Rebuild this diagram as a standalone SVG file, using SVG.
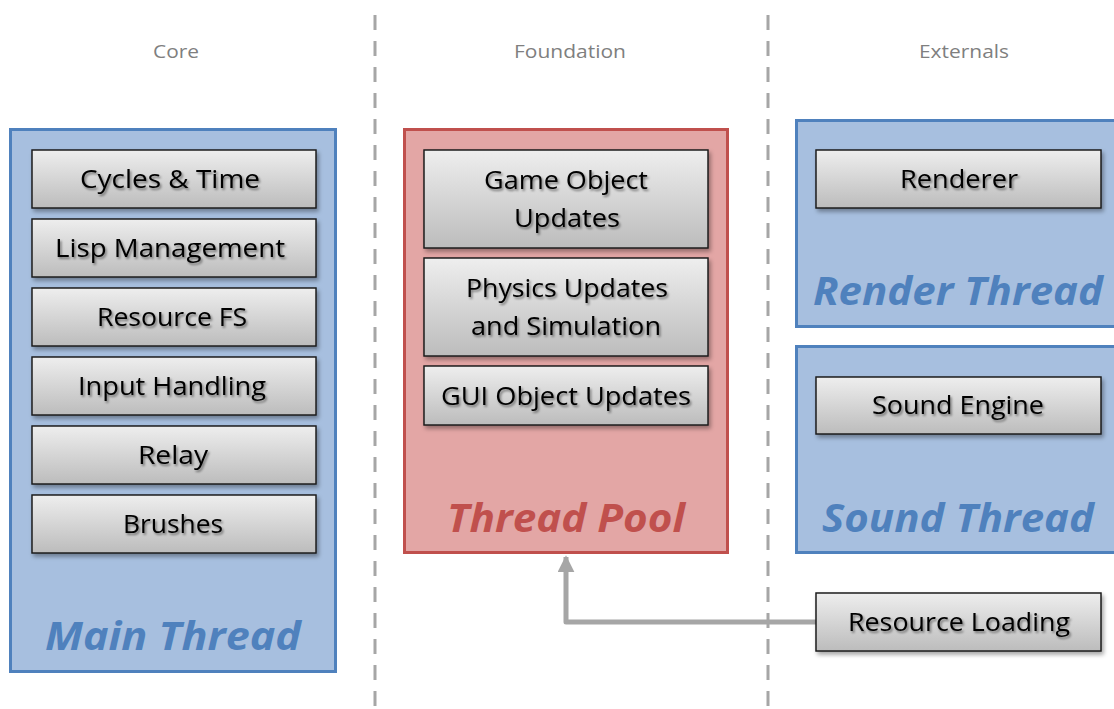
<svg xmlns="http://www.w3.org/2000/svg" width="1114" height="709" viewBox="0 0 1114 709">
  <defs>
    <linearGradient id="boxFill" x1="0" y1="0" x2="0" y2="1">
      <stop offset="0" stop-color="#eeeeee"/>
      <stop offset="1" stop-color="#bcbcbc"/>
    </linearGradient>
    <filter id="boxShadow" x="-10%" y="-20%" width="125%" height="150%">
      <feDropShadow dx="2" dy="3" stdDeviation="2" flood-color="#000" flood-opacity="0.35"/>
    </filter>
    <filter id="textShadow" x="-10%" y="-30%" width="125%" height="170%">
      <feDropShadow dx="1.5" dy="2" stdDeviation="1.2" flood-color="#000" flood-opacity="0.45"/>
    </filter>
    <marker id="arrowHead" viewBox="0 0 10 10" refX="9" refY="5" markerWidth="3.4" markerHeight="3.4" orient="auto" markerUnits="strokeWidth">
      <path d="M0,0 L10,5 L0,10 Z" fill="#a6a6a6"/>
    </marker>
  </defs>
  <style>
    .divider { stroke: #a6a6a6; stroke-width: 3; stroke-dasharray: 15 11; fill: none; }
    .header { font-family: "Open Sans", "Liberation Sans", sans-serif; font-size: 18px; fill: #7f7f7f; text-anchor: middle; }
    .blueZone { fill: #a7bfdf; stroke: #4f81bd; stroke-width: 3; }
    .redZone { fill: #e3a6a5; stroke: #c0504d; stroke-width: 3; }
    .zoneTitle { font-family: "Open Sans", "Liberation Sans", sans-serif; font-size: 40px; font-weight: bold; font-style: italic; text-anchor: middle; }
    .blueTitle { fill: #4f81bd; }
    .redTitle { fill: #c0504d; }
    .box { fill: url(#boxFill); stroke: #1e1e1e; stroke-width: 1.5; filter: url(#boxShadow); }
    .label { font-family: "Open Sans", "Liberation Sans", sans-serif; font-size: 25px; fill: #000; text-anchor: middle; filter: url(#textShadow); }
    .connector { stroke: #a6a6a6; stroke-width: 5; fill: none; stroke-linejoin: round; }
  </style>

  <rect width="1114" height="709" fill="#ffffff"/>

  <!-- column dividers -->
  <line class="divider" x1="375" y1="15" x2="375" y2="709"/>
  <line class="divider" x1="768" y1="15" x2="768" y2="709"/>

  <!-- column headers -->
  <text class="header" x="176" y="58" textLength="46" lengthAdjust="spacingAndGlyphs">Core</text>
  <text class="header" x="570" y="58" textLength="112" lengthAdjust="spacingAndGlyphs">Foundation</text>
  <text class="header" x="964" y="58" textLength="90" lengthAdjust="spacingAndGlyphs">Externals</text>

  <!-- Main Thread -->
  <g id="main-thread">
    <rect class="blueZone" x="10.5" y="129.5" width="325" height="542"/>
    <text class="zoneTitle blueTitle" x="173" y="650" textLength="256" lengthAdjust="spacingAndGlyphs">Main Thread</text>
  </g>
  <g id="cycles-time">
    <rect class="box" x="32" y="150" width="284" height="58"/>
    <text class="label" x="170" y="188" textLength="180" lengthAdjust="spacingAndGlyphs">Cycles &amp; Time</text>
  </g>
  <g id="lisp-management">
    <rect class="box" x="32" y="219" width="284" height="58"/>
    <text class="label" x="170" y="257" textLength="230" lengthAdjust="spacingAndGlyphs">Lisp Management</text>
  </g>
  <g id="resource-fs">
    <rect class="box" x="32" y="288" width="284" height="58"/>
    <text class="label" x="172" y="326" textLength="150" lengthAdjust="spacingAndGlyphs">Resource FS</text>
  </g>
  <g id="input-handling">
    <rect class="box" x="32" y="357" width="284" height="58"/>
    <text class="label" x="172" y="395" textLength="188" lengthAdjust="spacingAndGlyphs">Input Handling</text>
  </g>
  <g id="relay">
    <rect class="box" x="32" y="426" width="284" height="58"/>
    <text class="label" x="173" y="464" textLength="70" lengthAdjust="spacingAndGlyphs">Relay</text>
  </g>
  <g id="brushes">
    <rect class="box" x="32" y="495" width="284" height="58"/>
    <text class="label" x="173" y="533" textLength="100" lengthAdjust="spacingAndGlyphs">Brushes</text>
  </g>

  <!-- Thread Pool -->
  <g id="thread-pool">
    <rect class="redZone" x="404.5" y="129.5" width="323" height="423"/>
    <text class="zoneTitle redTitle" x="566" y="532" textLength="238" lengthAdjust="spacingAndGlyphs">Thread Pool</text>
  </g>
  <g id="game-object-updates">
    <rect class="box" x="424" y="150" width="284" height="98"/>
    <text class="label" x="566" y="189" textLength="164" lengthAdjust="spacingAndGlyphs">Game Object</text>
    <text class="label" x="567" y="227" textLength="106" lengthAdjust="spacingAndGlyphs">Updates</text>
  </g>
  <g id="physics-updates">
    <rect class="box" x="424" y="258" width="284" height="98"/>
    <text class="label" x="567" y="297" textLength="202" lengthAdjust="spacingAndGlyphs">Physics Updates</text>
    <text class="label" x="566" y="335" textLength="190" lengthAdjust="spacingAndGlyphs">and Simulation</text>
  </g>
  <g id="gui-object-updates">
    <rect class="box" x="424" y="366" width="284" height="59"/>
    <text class="label" x="566" y="405" textLength="250" lengthAdjust="spacingAndGlyphs">GUI Object Updates</text>
  </g>

  <!-- Render Thread -->
  <g id="render-thread">
    <rect class="blueZone" x="796.5" y="120.5" width="330" height="206"/>
    <text class="zoneTitle blueTitle" x="958" y="305" textLength="290" lengthAdjust="spacingAndGlyphs">Render Thread</text>
  </g>
  <g id="renderer">
    <rect class="box" x="816" y="150" width="285" height="58"/>
    <text class="label" x="959" y="188" textLength="118" lengthAdjust="spacingAndGlyphs">Renderer</text>
  </g>

  <!-- Sound Thread -->
  <g id="sound-thread">
    <rect class="blueZone" x="796.5" y="346.5" width="330" height="206"/>
    <text class="zoneTitle blueTitle" x="958" y="532" textLength="272" lengthAdjust="spacingAndGlyphs">Sound Thread</text>
  </g>
  <g id="sound-engine">
    <rect class="box" x="816" y="377" width="285" height="57"/>
    <text class="label" x="958" y="414" textLength="172" lengthAdjust="spacingAndGlyphs">Sound Engine</text>
  </g>

  <!-- connectors -->
  <g id="connectors">
    <path class="connector" d="M816,622 L566,622 L566,557" marker-end="url(#arrowHead)"/>
  </g>

  <g id="resource-loading">
    <rect class="box" x="816" y="593" width="285" height="58"/>
    <text class="label" x="959" y="631" textLength="222" lengthAdjust="spacingAndGlyphs">Resource Loading</text>
  </g>
</svg>
